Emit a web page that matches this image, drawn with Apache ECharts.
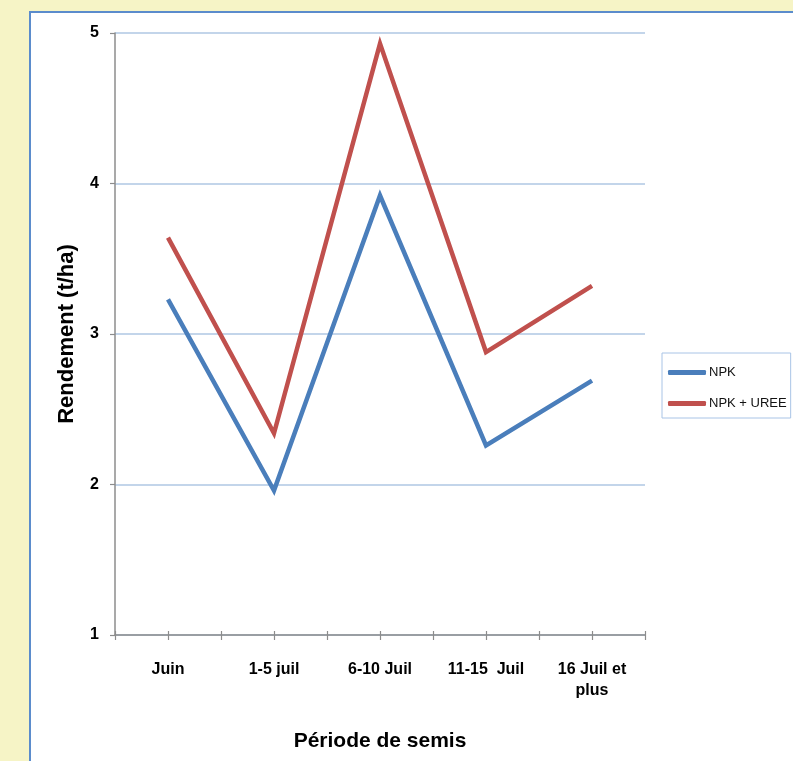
<!DOCTYPE html>
<html>
<head>
<meta charset="utf-8">
<script src="https://cdn.jsdelivr.net/npm/echarts@6/dist/echarts.min.js"></script>
<style>
  html, body { margin: 0; padding: 0; background: #f6f4c6; }
  #chart { width: 793px; height: 761px; }
</style>
</head>
<body>
<div id="chart"></div>
<script>
// Rendement moyen selon la période de semis
const categories = ['Juin', '1-5 juil', '6-10 Juil', '11-15  Juil', '16 Juil et\nplus'];
const npk = [3.23, 1.96, 3.92, 2.26, 2.69];
const npkUree = [3.64, 2.34, 4.93, 2.88, 3.32];
const yTicks = [1, 2, 3, 4, 5];

// Tick marks both at category boundaries and at category centres
const tickSlots = Array.from({ length: categories.length * 2 + 1 }, (_, i) => String(i));

const FONT = '"Liberation Sans", Arial, Helvetica, sans-serif';
const chart = echarts.init(document.getElementById('chart'), null, { renderer: 'canvas' });

const gridBox = { left: 115, top: 33, right: 148, bottom: 126 };

chart.setOption({
  backgroundColor: '#f6f4c6',
  animation: false,
  textStyle: { fontFamily: FONT },
  graphic: [
    {
      type: 'rect',
      z: -10,
      shape: { x: 30, y: 12, width: 780, height: 760 },
      style: { fill: '#ffffff', stroke: '#5b8ccc', lineWidth: 2 }
    }
  ],
  grid: Object.assign({ containLabel: false }, gridBox),
  legend: {
    orient: 'vertical',
    left: 662,
    top: 353,
    width: 127,
    height: 67,
    padding: [13, 4, 8, 6],
    itemGap: 18,
    itemWidth: 38,
    itemHeight: 5,
    icon: 'roundRect',
    borderColor: '#a9c4e6',
    borderWidth: 1,
    backgroundColor: '#ffffff',
    textStyle: { fontFamily: FONT, fontSize: 13, color: '#111', padding: [0, 0, 0, -2] },
    data: ['NPK', 'NPK + UREE']
  },
  xAxis: [
    {
      type: 'category',
      data: categories,
      boundaryGap: true,
      name: 'Période de semis',
      nameLocation: 'middle',
      nameGap: 96,
      nameTextStyle: { fontFamily: FONT, fontSize: 21, fontWeight: 'bold', color: '#000' },
      axisLine: { lineStyle: { color: '#8c8c8c', width: 1.5 } },
      axisTick: { show: false },
      axisLabel: {
        fontFamily: FONT, fontSize: 16, fontWeight: 'bold', color: '#000',
        margin: 24, lineHeight: 21, interval: 0
      },
      splitLine: { show: false }
    },
    {
      type: 'category',
      data: tickSlots,
      boundaryGap: false,
      position: 'bottom',
      axisLine: { show: false },
      axisTick: { show: true, length: 5, inside: false, interval: 0, lineStyle: { color: '#8c8c8c', width: 1.2 } },
      axisLabel: { show: false },
      splitLine: { show: false }
    },
    {
      type: 'category',
      data: tickSlots,
      boundaryGap: false,
      position: 'bottom',
      axisLine: { show: false },
      axisTick: { show: true, length: 4, inside: true, interval: 0, lineStyle: { color: '#8c8c8c', width: 1.2 } },
      axisLabel: { show: false },
      splitLine: { show: false }
    }
  ],
  yAxis: {
    type: 'value',
    min: yTicks[0],
    max: yTicks[yTicks.length - 1],
    interval: 1,
    name: 'Rendement (t/ha)',
    nameLocation: 'middle',
    nameGap: 37,
    nameTextStyle: { fontFamily: FONT, fontSize: 22, fontWeight: 'bold', color: '#000' },
    axisLine: { show: true, lineStyle: { color: '#8c8c8c', width: 1.5 } },
    axisTick: { show: true, length: 5, lineStyle: { color: '#8c8c8c', width: 1.2 } },
    axisLabel: { fontFamily: FONT, fontSize: 16, fontWeight: 'bold', color: '#000', margin: 16 },
    splitLine: { show: true, lineStyle: { color: '#c3d5ea', width: 2 } }
  },
  series: [
    {
      name: 'NPK',
      type: 'line',
      data: npk,
      symbol: 'none',
      lineStyle: { color: '#4a7ebb', width: 4.5, join: 'miter' },
      itemStyle: { color: '#4a7ebb' },
      z: 3
    },
    {
      name: 'NPK + UREE',
      type: 'line',
      data: npkUree,
      symbol: 'none',
      lineStyle: { color: '#c0504d', width: 4.5, join: 'miter' },
      itemStyle: { color: '#c0504d' },
      z: 3
    }
  ]
});
</script>
</body>
</html>
